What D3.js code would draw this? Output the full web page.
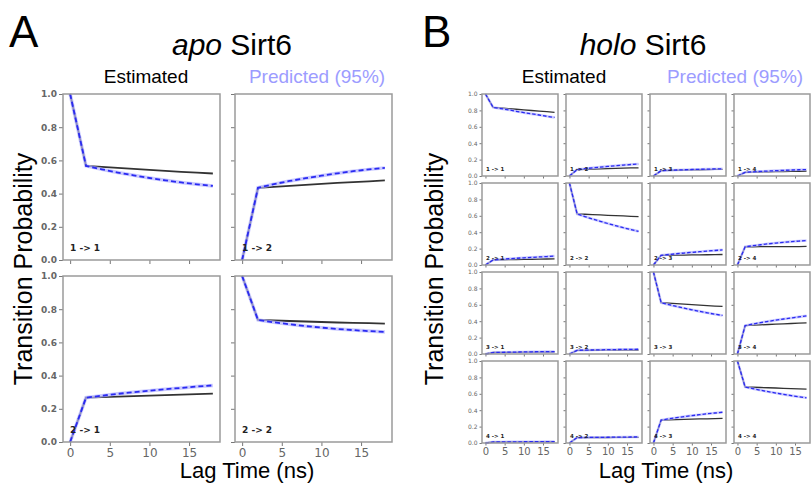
<!DOCTYPE html>
<html>
<head>
<meta charset="utf-8">
<script src="https://cdn.jsdelivr.net/npm/d3@7"></script>
<style>
  body { margin: 0; background: #fff; }
  svg { display: block; }
</style>
</head>
<body>
<div id="chart"></div>
<script>
// lag times (ns) shared by every transition panel
const lagTimes = [0, 2, 4, 6, 8, 10, 12, 14, 16, 18];
const xTicks = [0, 5, 10, 15];
const yTicks = [0, 0.2, 0.4, 0.6, 0.8, 1.0];

// apo Sirt6, 2 states, row-major (i -> j)
const apoLabels = ['1 -> 1', '1 -> 2', '2 -> 1', '2 -> 2'];
const apoEstimated = [
  [1, 0.567, 0.561, 0.555, 0.549, 0.543, 0.537, 0.531, 0.526, 0.521],
  [0, 0.435, 0.441, 0.447, 0.453, 0.459, 0.464, 0.469, 0.474, 0.480],
  [0, 0.267, 0.270, 0.273, 0.276, 0.279, 0.282, 0.285, 0.288, 0.291],
  [1, 0.735, 0.732, 0.729, 0.726, 0.723, 0.720, 0.718, 0.716, 0.713]
];
const apoPredicted = [
  [1, 0.567, 0.546, 0.527, 0.510, 0.494, 0.480, 0.467, 0.456, 0.446],
  [0, 0.435, 0.457, 0.476, 0.493, 0.508, 0.522, 0.535, 0.546, 0.555],
  [0, 0.267, 0.279, 0.290, 0.300, 0.309, 0.318, 0.326, 0.334, 0.341],
  [1, 0.735, 0.721, 0.709, 0.698, 0.689, 0.681, 0.674, 0.668, 0.663]
];

// holo Sirt6, 4 states, row-major (i -> j)
const holoLabels = [
  '1 -> 1', '1 -> 2', '1 -> 3', '1 -> 4',
  '2 -> 1', '2 -> 2', '2 -> 3', '2 -> 4',
  '3 -> 1', '3 -> 2', '3 -> 3', '3 -> 4',
  '4 -> 1', '4 -> 2', '4 -> 3', '4 -> 4'
];
const holoEstimated = [
  [1, 0.837, 0.830, 0.822, 0.814, 0.806, 0.799, 0.792, 0.784, 0.776],
  [0, 0.078, 0.081, 0.084, 0.087, 0.090, 0.093, 0.095, 0.098, 0.100],
  [0, 0.065, 0.068, 0.070, 0.072, 0.074, 0.076, 0.078, 0.080, 0.082],
  [0, 0.045, 0.047, 0.049, 0.051, 0.053, 0.055, 0.056, 0.058, 0.060],
  [0, 0.062, 0.064, 0.066, 0.067, 0.069, 0.070, 0.072, 0.073, 0.075],
  [1, 0.623, 0.619, 0.615, 0.611, 0.606, 0.602, 0.598, 0.594, 0.590],
  [0, 0.118, 0.119, 0.120, 0.121, 0.123, 0.124, 0.125, 0.127, 0.128],
  [0, 0.222, 0.222, 0.223, 0.223, 0.224, 0.224, 0.225, 0.225, 0.226],
  [0, 0.018, 0.019, 0.020, 0.021, 0.022, 0.022, 0.023, 0.024, 0.025],
  [0, 0.045, 0.045, 0.046, 0.046, 0.047, 0.047, 0.048, 0.048, 0.049],
  [1, 0.626, 0.620, 0.614, 0.608, 0.602, 0.597, 0.591, 0.585, 0.580],
  [0, 0.346, 0.351, 0.355, 0.360, 0.364, 0.368, 0.372, 0.376, 0.380],
  [0, 0.012, 0.012, 0.013, 0.013, 0.013, 0.014, 0.014, 0.014, 0.015],
  [0, 0.066, 0.066, 0.067, 0.067, 0.067, 0.068, 0.068, 0.068, 0.068],
  [0, 0.280, 0.283, 0.285, 0.288, 0.290, 0.293, 0.295, 0.298, 0.300],
  [1, 0.683, 0.680, 0.677, 0.674, 0.671, 0.667, 0.664, 0.661, 0.658]
];
const holoPredicted = [
  [1, 0.837, 0.822, 0.807, 0.789, 0.773, 0.758, 0.744, 0.728, 0.714],
  [0, 0.078, 0.089, 0.099, 0.108, 0.117, 0.125, 0.133, 0.140, 0.146],
  [0, 0.065, 0.069, 0.073, 0.076, 0.079, 0.082, 0.084, 0.086, 0.088],
  [0, 0.045, 0.051, 0.056, 0.061, 0.065, 0.069, 0.073, 0.076, 0.079],
  [0, 0.062, 0.069, 0.076, 0.082, 0.088, 0.093, 0.098, 0.103, 0.108],
  [1, 0.623, 0.591, 0.561, 0.533, 0.506, 0.480, 0.455, 0.432, 0.410],
  [0, 0.118, 0.128, 0.137, 0.146, 0.154, 0.162, 0.170, 0.177, 0.184],
  [0, 0.222, 0.235, 0.247, 0.258, 0.268, 0.277, 0.285, 0.292, 0.298],
  [0, 0.018, 0.020, 0.022, 0.024, 0.025, 0.027, 0.028, 0.029, 0.030],
  [0, 0.045, 0.047, 0.049, 0.051, 0.053, 0.054, 0.056, 0.057, 0.058],
  [1, 0.626, 0.602, 0.580, 0.559, 0.539, 0.520, 0.502, 0.485, 0.470],
  [0, 0.346, 0.365, 0.382, 0.398, 0.413, 0.427, 0.440, 0.453, 0.465],
  [0, 0.012, 0.013, 0.014, 0.014, 0.015, 0.016, 0.016, 0.017, 0.017],
  [0, 0.066, 0.067, 0.068, 0.069, 0.070, 0.071, 0.072, 0.073, 0.074],
  [0, 0.280, 0.295, 0.309, 0.322, 0.334, 0.345, 0.356, 0.366, 0.375],
  [1, 0.683, 0.663, 0.644, 0.626, 0.609, 0.593, 0.578, 0.564, 0.551]
];

const w = 811;
const h = 483;
const headFont = '"Liberation Sans", Arial, sans-serif';
const tickFont = '"DejaVu Sans", sans-serif';

const svg = d3.select('#chart')
  .append('svg')
  .attr('width', w)
  .attr('height', h);

function drawGrid(cfg) {
  const n = cfg.n;
  for (let i = 0; i < n; i++) {
    for (let j = 0; j < n; j++) {
      const k = i * n + j;
      const left = cfg.left + j * cfg.colPitch;
      const top = cfg.top + i * cfg.rowPitch;
      const right = left + cfg.cellW;
      const bottom = top + cfg.cellH;

      const x = d3.scaleLinear().domain([-0.9, 18.9]).range([left, right]);
      const y = d3.scaleLinear().domain([0, 1]).range([bottom, top]);

      const g = svg.append('g');

      // y axis
      const yAxis = d3.axisLeft(y)
        .tickValues(yTicks)
        .tickSize(cfg.tick)
        .tickPadding(2)
        .tickFormat(j === 0 ? d3.format('.1f') : () => '');
      const ya = g.append('g')
        .attr('transform', 'translate(' + left + ',0)')
        .call(yAxis);
      ya.select('.domain').remove();
      ya.selectAll('line').attr('stroke', '#777');
      ya.selectAll('text')
        .attr('font-family', tickFont)
        .attr('font-size', cfg.yFont)
        .attr('font-weight', cfg.yBold ? 'bold' : 'normal')
        .attr('fill', '#666');

      // x axis
      const xAxis = d3.axisBottom(x)
        .tickValues(xTicks)
        .tickSize(cfg.tick)
        .tickPadding(cfg.xPad)
        .tickFormat(i === n - 1 ? d3.format('d') : () => '');
      const xa = g.append('g')
        .attr('transform', 'translate(0,' + bottom + ')')
        .call(xAxis);
      xa.select('.domain').remove();
      xa.selectAll('line').attr('stroke', '#777');
      xa.selectAll('text')
        .attr('font-family', tickFont)
        .attr('font-size', cfg.xFont)
        .attr('fill', '#666');

      const line = d3.line()
        .x((d, t) => x(lagTimes[t]))
        .y(d => y(d));

      // black estimated
      g.append('path')
        .datum(cfg.est[k])
        .attr('d', line)
        .attr('fill', 'none')
        .attr('stroke', '#333')
        .attr('stroke-width', cfg.lw);

      // predicted band + dashed blue
      g.append('path')
        .datum(cfg.pred[k])
        .attr('d', line)
        .attr('fill', 'none')
        .attr('stroke', '#b4b4ff')
        .attr('stroke-opacity', 0.7)
        .attr('stroke-width', cfg.band);
      g.append('path')
        .datum(cfg.pred[k])
        .attr('d', line)
        .attr('fill', 'none')
        .attr('stroke', '#2a2af2')
        .attr('stroke-width', cfg.lw)
        .attr('stroke-dasharray', cfg.dash);

      // frame
      g.append('rect')
        .attr('x', left)
        .attr('y', top)
        .attr('width', cfg.cellW)
        .attr('height', cfg.cellH)
        .attr('fill', 'none')
        .attr('stroke', '#9a9a9a')
        .attr('stroke-width', 1.5);

      g.append('text')
        .attr('x', left + cfg.labelDx)
        .attr('y', bottom - cfg.labelDy)
        .attr('font-family', tickFont)
        .attr('font-weight', 'bold')
        .attr('font-size', cfg.labelFont)
        .attr('fill', '#222')
        .text(cfg.labels[k]);
    }
  }
}

drawGrid({
  n: 2, left: 63, top: 94, cellW: 157, cellH: 166, colPitch: 172, rowPitch: 182,
  tick: 4, yFont: 9, yBold: true, xFont: 12, xPad: 2,
  lw: 1.8, band: 3.5, dash: '5,3',
  labelDx: 7, labelDy: 9, labelFont: 9,
  est: apoEstimated, pred: apoPredicted, labels: apoLabels
});

drawGrid({
  n: 4, left: 482, top: 94, cellW: 76, cellH: 82, colPitch: 84, rowPitch: 89,
  tick: 2.5, yFont: 6, yBold: false, xFont: 10, xPad: 2,
  lw: 1.3, band: 2.6, dash: '3.5,2',
  labelDx: 4, labelDy: 5, labelFont: 5.5,
  est: holoEstimated, pred: holoPredicted, labels: holoLabels
});

// headings
function heading(cfg) {
  svg.append('text')
    .attr('x', cfg.letterX).attr('y', 47)
    .attr('font-family', headFont).attr('font-size', 44)
    .text(cfg.letter);

  const t = svg.append('text')
    .attr('x', cfg.titleX).attr('y', 55)
    .attr('text-anchor', 'middle')
    .attr('font-family', headFont).attr('font-size', 30);
  t.append('tspan').attr('font-style', 'italic').text(cfg.italic);
  t.append('tspan').text(' Sirt6');

  svg.append('text')
    .attr('x', cfg.estX).attr('y', 83)
    .attr('text-anchor', 'middle')
    .attr('font-family', headFont).attr('font-size', 19)
    .text('Estimated');

  svg.append('text')
    .attr('x', cfg.predX).attr('y', 83)
    .attr('text-anchor', 'middle')
    .attr('font-family', headFont).attr('font-size', 19)
    .attr('fill', '#9c9cff')
    .text('Predicted (95%)');

  svg.append('text')
    .attr('transform', 'translate(' + cfg.yLabelX + ',269) rotate(-90)')
    .attr('text-anchor', 'middle')
    .attr('font-family', headFont).attr('font-size', 25)
    .text('Transition Probability');

  svg.append('text')
    .attr('x', cfg.xLabelX).attr('y', 478)
    .attr('text-anchor', 'middle')
    .attr('font-family', headFont).attr('font-size', 22)
    .text('Lag Time (ns)');
}

heading({ letter: 'A', letterX: 9, italic: 'apo', titleX: 232, estX: 146, predX: 317, yLabelX: 32, xLabelX: 247 });
heading({ letter: 'B', letterX: 422, italic: 'holo', titleX: 643, estX: 564, predX: 735, yLabelX: 443, xLabelX: 666 });
</script>
</body>
</html>
